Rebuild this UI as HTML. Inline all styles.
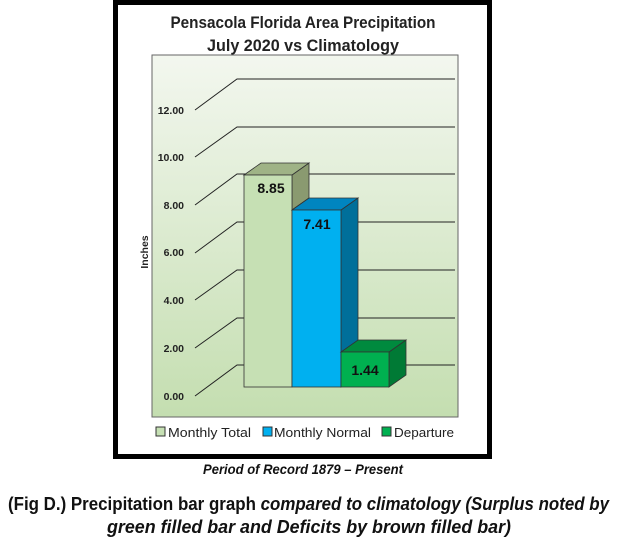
<!DOCTYPE html>
<html><head><style>html,body{margin:0;padding:0;background:#fff;}svg{display:block;}</style></head>
<body>
<svg width="617" height="548" xmlns="http://www.w3.org/2000/svg" font-family="Liberation Sans, sans-serif" font-weight="bold">
<defs>
<linearGradient id="bg" x1="0" y1="0" x2="0" y2="1">
<stop offset="0" stop-color="#f3f7ef"/><stop offset="1" stop-color="#c4deb0"/>
</linearGradient>
</defs>
<rect x="115.5" y="2.5" width="374" height="454" fill="#fff" stroke="#000" stroke-width="5"/>
<rect x="152" y="55" width="306" height="362" fill="url(#bg)" stroke="#666" stroke-width="1"/>
<text x="303" y="28" font-size="17" text-anchor="middle" textLength="265" lengthAdjust="spacingAndGlyphs" fill="#222">Pensacola Florida Area Precipitation</text>
<text x="303" y="51" font-size="17" text-anchor="middle" textLength="192" lengthAdjust="spacingAndGlyphs" fill="#222">July 2020 vs Climatology</text>
<g stroke="#222" stroke-width="1" fill="none">
<polyline points="195,396 237,365 455,365"/>
<polyline points="195,348 237,318 455,318"/>
<polyline points="195,300 237,270 455,270"/>
<polyline points="195,253 237,222 455,222"/>
<polyline points="195,205 237,174 455,174"/>
<polyline points="195,157 237,127 455,127"/>
<polyline points="195,110 237,79 455,79"/>
</g>
<g font-size="10.5" text-anchor="end" fill="#222">
<text x="184" y="400">0.00</text><text x="184" y="352">2.00</text><text x="184" y="304">4.00</text>
<text x="184" y="256">6.00</text><text x="184" y="209">8.00</text><text x="184" y="161">10.00</text><text x="184" y="114">12.00</text>
</g>
<text transform="translate(148,252) rotate(-90)" font-size="10.5" text-anchor="middle" fill="#222">Inches</text>
<g stroke="#333" stroke-width="0.8">
<polygon points="292,175 309,163 309,198 292,210" fill="#8a9a70"/>
<polygon points="244,175 261,163 309,163 292,175" fill="#9fb386"/>
<rect x="244" y="175" width="48" height="212" fill="#c6e0b4"/>
<polygon points="341,210 358,198 358,375 341,387" fill="#006f9a"/>
<polygon points="292,210 309,198 358,198 341,210" fill="#0085c0"/>
<rect x="292" y="210" width="49" height="177" fill="#00b0f0"/>
<polygon points="389,352 406,340 406,375 389,387" fill="#007a35"/>
<polygon points="341,352 358,340 406,340 389,352" fill="#008a3e"/>
<rect x="341" y="352" width="48" height="35" fill="#00b050"/>
</g>
<g font-size="14" text-anchor="middle" fill="#111">
<text x="271" y="193">8.85</text><text x="317" y="229">7.41</text><text x="365" y="375">1.44</text>
</g>
<g font-weight="normal" font-size="13" fill="#222">
<rect x="156" y="427" width="9" height="9" fill="#c6e0b4" stroke="#333"/>
<text x="168" y="437" textLength="83" lengthAdjust="spacingAndGlyphs">Monthly Total</text>
<rect x="263" y="427" width="9" height="9" fill="#00b0f0" stroke="#333"/>
<text x="274" y="437" textLength="97" lengthAdjust="spacingAndGlyphs">Monthly Normal</text>
<rect x="382" y="427" width="9" height="9" fill="#00b050" stroke="#333"/>
<text x="394" y="437" textLength="60" lengthAdjust="spacingAndGlyphs">Departure</text>
</g>
<text x="303" y="474" font-size="14" font-style="italic" text-anchor="middle" textLength="200" lengthAdjust="spacingAndGlyphs" fill="#111">Period of Record 1879 – Present</text>
<text x="8" y="510" font-size="18" textLength="601" lengthAdjust="spacingAndGlyphs" fill="#111">(Fig D.) Precipitation bar graph <tspan font-style="italic">compared to climatology (Surplus noted by</tspan></text>
<text x="309" y="533" font-size="18" font-style="italic" text-anchor="middle" textLength="404" lengthAdjust="spacingAndGlyphs" fill="#111">green filled bar and Deficits by brown filled bar)</text>
</svg>
</body></html>
